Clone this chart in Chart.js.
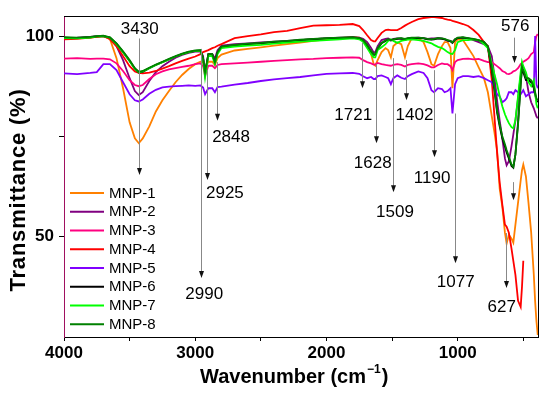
<!DOCTYPE html>
<html>
<head>
<meta charset="utf-8">
<script src="https://cdn.jsdelivr.net/npm/chart.js"></script>
<style>
  html, body { margin: 0; padding: 0; background: #fff; }
  #ftir { display: block; }
</style>
</head>
<body>
<canvas id="ftir" width="550" height="398"></canvas>
<script>
// FTIR spectra, wavenumber (cm-1) vs transmittance (%)
const wavenumbers = [
  4000, 3900, 3800, 3750, 3700, 3650, 3600, 3550, 3500, 3460,
  3430, 3400, 3350, 3300, 3250, 3200, 3150, 3100, 3050, 3000,
  2960, 2940, 2925, 2900, 2870, 2850, 2830, 2800, 2700, 2600,
  2500, 2400, 2300, 2200, 2100, 2000, 1900, 1800, 1750, 1721,
  1690, 1660, 1640, 1628, 1610, 1580, 1550, 1530, 1509, 1490,
  1460, 1430, 1402, 1380, 1350, 1300, 1260, 1230, 1200, 1180,
  1150, 1120, 1100, 1077, 1055, 1040, 1020, 1000, 960, 920,
  880, 840, 800, 770, 740, 720, 700, 680, 660, 640,
  627, 610, 590, 576, 560, 540, 520, 510, 500, 480,
  460, 440, 420, 410, 400, 390
];

const seriesNames = ['MNP-1', 'MNP-2', 'MNP-3', 'MNP-4', 'MNP-5', 'MNP-6', 'MNP-7', 'MNP-8'];
const seriesColors = ['#ff8000', '#800080', '#ff0080', '#ff0000', '#8000ff', '#000000', '#00ff00', '#008000'];

const mnp1 = [
  99.3, 99.5, 99.6, 99.8, 100, 99.3, 94.5, 87, 78.5, 74.5,
  73.3, 74.5, 77.5, 81.2, 84, 86.3, 88.5, 90.3, 91.8, 93,
  93.6, 93.4, 92.2, 93.6, 93.6, 92.8, 94.5, 95.4, 96.4, 96.8,
  97.2, 97.6, 98, 98.4, 98.8, 99.2, 99.5, 99.8, 99.6, 99,
  98, 95.5, 93, 92.6, 94, 96, 97, 96.5, 94.7, 97.5,
  98.4, 98, 94.7, 97.5, 99.5, 99.4, 98.5, 96, 93, 92.6,
  95.5, 97.5, 98.5, 98.5, 97, 87, 98.5, 99.2, 99, 97,
  95, 92.2, 89.5, 86, 80, 76, 71.6, 62, 57.5, 51,
  48.3, 50.5, 49.5, 48.5, 53, 58.5, 64, 66.6, 68, 65,
  58.3, 51, 40.5, 34, 29, 25.5
];
const mnp2 = [
  99.5, 99.6, 99.8, 100, 100, 99.5, 97.5, 94, 89.5, 86.3,
  85.3, 86, 88.8, 91, 92.5, 93.6, 94.6, 95.3, 95.8, 96.1,
  96.2, 95, 90.5, 95.5, 95.5, 94.4, 96.5, 97.6, 98, 98.2,
  98.4, 98.6, 98.8, 99, 99.2, 99.4, 99.6, 99.7, 99.6, 99.3,
  98.5, 97, 95.9, 96, 97.5, 99, 99.3, 99.4, 99, 99.3,
  99.4, 99.3, 99, 99.3, 99.5, 99.6, 99.5, 99.3, 99.4, 99.4,
  99.5, 99.4, 99.2, 98.8, 98.8, 98.5, 99.2, 99.5, 99.6, 99.4,
  99, 98.5, 98, 97.5, 95, 90, 84, 79, 74.5, 69.5,
  67.8, 68.8, 72.5, 75.5, 79, 84.5, 90, 91.5, 91.5, 90,
  86, 83.5, 82, 81, 80, 79.5
];
const mnp3 = [
  94.4, 94.5, 94.3, 94.4, 94.4, 94.2, 93.2, 91.3, 89, 87.8,
  87.5, 87.8, 89.3, 90.5, 91.2, 91.7, 92, 92.3, 92.6, 93,
  93.2, 92.5, 90.1, 92.6, 92.6, 92, 92.8, 93, 93.2, 93.4,
  93.6, 93.8, 94, 94.2, 94.3, 94.5, 94.6, 94.7, 94.6, 94,
  93.5, 93.2, 92.9, 92.9, 93.3, 93, 92.8, 92.7, 92.6, 92.8,
  93, 92.8, 92.4, 92.8, 93, 93.2, 93, 92.7, 92.2, 92.2,
  92.8, 93.2, 93, 93, 92.5, 91.5, 93.5, 94, 94.3, 94.4,
  94.2, 94.3, 93.8, 93.5, 93.5, 93, 92.5, 92, 91.3, 91,
  90.6, 90.5, 90.8, 91.2, 91.4, 92, 93, 93.3, 93.6, 94,
  94.5, 95.5, 96, 98.5, 100, 100.5
];
const mnp4 = [
  99.2, 99.3, 99.6, 99.8, 100, 99.2, 97.5, 95, 92.5, 91.2,
  90.8, 90.7, 90.9, 91.3, 91.9, 92.5, 93.2, 93.8, 94.4, 94.9,
  95.5, 96, 96.2, 96.5, 97, 97.2, 97.6, 98, 99.5, 100,
  100.4, 101, 101.3, 102, 102.6, 102.7, 102.8, 103, 102.5, 101.5,
  100.2, 99, 98.7, 98.7, 99.5, 100.8, 101.5, 101.6, 101.5, 101.5,
  101.5, 102, 102.6, 103, 103.5, 104.2, 104.5, 104.6, 104.7, 104.7,
  104.6, 104.5, 104.3, 104.1, 104, 103.8, 103.6, 103.4, 103, 102.5,
  101.5, 100.3, 98.5, 97.5, 89, 80, 71, 63.5, 58, 53,
  52.5, 51, 47, 44, 40.5, 34, 32.5, 37.5, 44, null,
  null, null, null, null, null, null
];
const mnp5 = [
  90.7, 90.5, 90.8, 91, 93, 93, 91.5, 88.5, 85.5, 84,
  83.7, 84.2, 85.6, 86.6, 87.2, 87.4, 87.5, 87.6, 87.7, 87.6,
  87.7, 87.2, 85.5, 87, 87, 86, 87.3, 87.4, 87.9, 88.3,
  88.8, 89.2, 89.5, 89.8, 90.2, 90.6, 90.7, 90.8, 90.6, 90,
  89.5, 89.8, 89.3, 89.3, 90, 90.2, 89.8, 89.5, 88, 89.5,
  90.2, 89.6, 89.3, 90, 90.5, 91.2, 90.8, 89.5, 86.5, 86,
  87, 86.8, 86, 86.3, 87, 80.7, 88, 89.5, 90, 90,
  89.8, 90, 89.5, 89, 88.5, 87, 85.5, 85, 83.5, 84,
  84.5, 86, 86, 85.5, 86.5, 86, 85.5, 86, 86.5, 85,
  85.5, 86, 86, 100, 88, 87
];
const mnp6 = [
  99.6, 99.5, 99.7, 99.9, 100, 99.6, 98.1, 96, 93.8, 91.9,
  90.9, 91.1, 92, 92.8, 93.5, 94.2, 94.9, 95.5, 96, 96.3,
  96.4, 94.4, 90.8, 95.4, 95.4, 93.4, 95.9, 97.3, 97.7, 98,
  98.2, 98.5, 98.7, 99, 99.2, 99.4, 99.5, 99.6, 99.4, 98.9,
  97.6, 96, 95.3, 95.3, 96.8, 98.2, 98.8, 99.1, 98.9, 99.1,
  99.3, 99.4, 99.2, 99.4, 99.5, 99.5, 99.4, 99.2, 99.1, 99.2,
  99.4, 99.3, 99.2, 98.9, 98.7, 98.3, 99.1, 99.5, 99.6, 99.4,
  99.2, 98.9, 98.5, 97.2, 91.5, 86.5, 81, 77.5, 74.5, 72.5,
  71, 69.5, 67.6, 67.2, 70.5, 78.5, 88, 92, 91, 89,
  89, 88.5, 87, 85.5, 84, 83.5
];
const mnp7 = [
  99.5, 99.4, 99.6, 99.9, 100, 99.6, 98, 96, 93.8, 91.8,
  91, 91.2, 92, 92.8, 93.5, 94.2, 94.9, 95.5, 96, 96.3,
  96.4, 94, 89.7, 95, 95, 93, 95.5, 97, 97.4, 97.6,
  97.8, 98.1, 98.4, 98.6, 98.8, 99, 99.2, 99.4, 99.2, 98.6,
  97, 95.5, 94.7, 94.7, 96.5, 97.2, 98, 98.8, 99.2, 98.8,
  98.3, 98.8, 99, 99.1, 99.2, 99, 98.8, 98.5, 98.2, 97.8,
  97.3, 97, 96.6, 96, 95.6, 95.5, 96.5, 98.5, 99, 99,
  99.2, 99, 98, 97, 93, 90.5, 88, 85, 82.5, 80.5,
  79.5, 78.3, 77.3, 77, 79, 85, 91, 93.6, 92.5, 91,
  88.5, 87.5, 89, 86, 83, 82
];
const mnp8 = [
  99.7, 99.6, 99.8, 100, 100.1, 99.7, 98.2, 96.2, 94, 92,
  91.1, 91.3, 92.1, 92.9, 93.6, 94.3, 95, 95.6, 96.1, 96.4,
  96.5, 94.5, 91, 95.5, 95.5, 93.5, 96, 97.4, 97.8, 98.1,
  98.3, 98.6, 98.8, 99.1, 99.3, 99.5, 99.6, 99.7, 99.5, 99,
  97.8, 96.3, 95.5, 95.5, 97, 98.3, 98.9, 99.2, 99, 99.2,
  99.4, 99.5, 99.3, 99.5, 99.6, 99.6, 99.5, 99.3, 99.2, 99.3,
  99.5, 99.4, 99.3, 99, 98.8, 98.4, 99.2, 99.6, 99.7, 99.5,
  99.3, 99, 98.6, 97.5, 92, 87, 81.5, 78, 75, 73,
  71.6, 70, 68, 67.4, 70.5, 78, 88, 92.4, 91.5, 89.5,
  89.5, 89, 87.5, 86, 84.5, 84
];
const seriesValues = [mnp1, mnp2, mnp3, mnp4, mnp5, mnp6, mnp7, mnp8];

const xTicks = [4000, 3500, 3000, 2500, 2000, 1500, 1000, 500];
const xTickLabels = ['4000', '', '3000', '', '2000', '', '1000', ''];
const yTicks = [50, 75, 100];
const yTickLabels = ['50', '', '100'];

// peak markers: label, arrow wavenumber, arrow start/end (T), label position
const peaks = [
  { text: '3430', x: 3430, y1: 99.4, y2: 65.4, tx: 3423, ty: 101.7 },
  { text: '2990', x: 2957, y1: 96.8, y2: 39.7, tx: 2931, ty: 35.6 },
  { text: '2925', x: 2911, y1: 91.5, y2: 64.1, tx: 2774, ty: 60.8 },
  { text: '2848', x: 2835, y1: 93.5, y2: 78.9, tx: 2727, ty: 74.8 },
  { text: '1721', x: 1727, y1: 98.4, y2: 87, tx: 1796, ty: 80.3 },
  { text: '1628', x: 1625, y1: 93, y2: 73.3, tx: 1647, ty: 68.3 },
  { text: '1509', x: 1493, y1: 94.5, y2: 61.1, tx: 1478, ty: 56 },
  { text: '1402', x: 1396, y1: 94, y2: 84, tx: 1329, ty: 80.3 },
  { text: '1190', x: 1182, y1: 91.5, y2: 69.8, tx: 1195, ty: 64.5 },
  { text: '1077', x: 1020, y1: 80.7, y2: 43.4, tx: 1015, ty: 38.7 },
  { text: '576', x: 570, y1: 99.6, y2: 93.3, tx: 562, ty: 102.5 },
  { text: '', x: 575, y1: 63.6, y2: 59.1 },
  { text: '627', x: 633, y1: 50.9, y2: 37.2, tx: 664, ty: 32.5 }
];

const FONT = '"Liberation Sans", Arial, Helvetica, sans-serif';

const framePlugin = {
  id: 'frame',
  afterDraw(chart) {
    const { ctx, chartArea: a } = chart;
    ctx.save();
    ctx.strokeStyle = '#000';
    ctx.lineWidth = 1;
    ctx.beginPath();
    ctx.moveTo(a.left, a.top + 0.5);
    ctx.lineTo(a.right + 0.5, a.top + 0.5);
    ctx.lineTo(a.right + 0.5, a.bottom);
    ctx.stroke();
    ctx.restore();
  }
};

const peakPlugin = {
  id: 'peaks',
  afterDatasetsDraw(chart) {
    const { ctx } = chart;
    const xs = chart.scales.x, ys = chart.scales.y;
    ctx.save();
    peaks.forEach(p => {
      const x = Math.round(xs.getPixelForValue(p.x)) + 0.5;
      const y1 = ys.getPixelForValue(p.y1);
      const y2 = ys.getPixelForValue(p.y2);
      ctx.strokeStyle = '#888';
      ctx.lineWidth = 1;
      ctx.beginPath();
      ctx.moveTo(x, y1);
      ctx.lineTo(x, y2 - 6);
      ctx.stroke();
      ctx.fillStyle = '#111';
      ctx.beginPath();
      ctx.moveTo(x, y2);
      ctx.lineTo(x - 2.5, y2 - 7);
      ctx.lineTo(x + 2.5, y2 - 7);
      ctx.closePath();
      ctx.fill();
      if (p.text) {
        ctx.font = '17px ' + FONT;
        ctx.fillStyle = '#000';
        ctx.textAlign = 'center';
        ctx.textBaseline = 'middle';
        ctx.fillText(p.text, xs.getPixelForValue(p.tx), ys.getPixelForValue(p.ty));
      }
    });
    ctx.restore();
  }
};

const legendPlugin = {
  id: 'inlegend',
  afterDatasetsDraw(chart) {
    const { ctx, chartArea: a } = chart;
    ctx.save();
    chart.data.datasets.forEach((ds, i) => {
      const y = a.top + 177 + i * 18.75;
      ctx.strokeStyle = ds.borderColor;
      ctx.lineWidth = 2;
      ctx.beginPath();
      ctx.moveTo(a.left + 6, y);
      ctx.lineTo(a.left + 40, y);
      ctx.stroke();
      ctx.font = '15px ' + FONT;
      ctx.fillStyle = '#000';
      ctx.textAlign = 'left';
      ctx.textBaseline = 'middle';
      ctx.fillText(ds.label, a.left + 45, y + 0.5);
    });
    ctx.restore();
  }
};

const titlePlugin = {
  id: 'axisTitles',
  afterDraw(chart) {
    const { ctx } = chart;
    ctx.save();
    ctx.fillStyle = '#000';
    // y title
    ctx.translate(24.5, 190);
    ctx.rotate(-Math.PI / 2);
    ctx.font = 'bold 22px ' + FONT;
    ctx.letterSpacing = '0.8px';
    ctx.textAlign = 'center';
    ctx.textBaseline = 'alphabetic';
    ctx.fillText('Transmittance (%)', 0, 0);
    ctx.restore();

    // x title with superscript
    ctx.save();
    ctx.fillStyle = '#000';
    ctx.textBaseline = 'alphabetic';
    ctx.textAlign = 'left';
    let x = 200;
    const base = 383;
    ctx.font = 'bold 20px ' + FONT;
    const main = 'Wavenumber (cm';
    ctx.fillText(main, x, base);
    x += ctx.measureText(main).width + 1;
    ctx.font = 'bold 12px ' + FONT;
    const sup = '\u22121';
    ctx.fillText(sup, x, base - 10);
    x += ctx.measureText(sup).width + 1;
    ctx.font = 'bold 20px ' + FONT;
    ctx.fillText(')', x, base);
    ctx.restore();
  }
};

const datasets = seriesNames.map((name, i) => ({
  label: name,
  data: wavenumbers.map((w, j) => ({ x: w, y: seriesValues[i][j] })),
  borderColor: seriesColors[i],
  borderWidth: 1.8,
  pointRadius: 0,
  tension: 0,
  spanGaps: false,
  order: seriesNames.length - i
}));

new Chart(document.getElementById('ftir'), {
  type: 'line',
  data: { datasets },
  options: {
    responsive: false,
    devicePixelRatio: 1,
    animation: false,
    layout: { padding: { top: 16, right: 12, left: 0, bottom: 0 } },
    plugins: { legend: { display: false }, tooltip: { enabled: false } },
    scales: {
      x: {
        type: 'linear',
        reverse: true,
        min: 388,
        max: 4000,
        afterBuildTicks(scale) { scale.ticks = xTicks.map(v => ({ value: v })); },
        afterFit(scale) { scale.height = 61; },
        ticks: {
          autoSkip: false,
          maxRotation: 0,
          padding: 2,
          color: '#000',
          font: { family: FONT, size: 17, weight: 'bold' },
          callback: (v) => xTickLabels[xTicks.indexOf(v)] ?? ''
        },
        grid: { drawOnChartArea: false, drawTicks: true, tickLength: 4, color: '#000' },
        border: { display: true, color: '#000', width: 1 }
      },
      y: {
        min: 25,
        max: 105,
        afterBuildTicks(scale) { scale.ticks = yTicks.map(v => ({ value: v })); },
        afterFit(scale) { scale.width = 64; },
        ticks: {
          padding: 5,
          color: '#000',
          font: { family: FONT, size: 17, weight: 'bold' },
          callback: (v) => yTickLabels[yTicks.indexOf(v)] ?? ''
        },
        grid: { drawOnChartArea: false, drawTicks: true, tickLength: 5, color: '#000' },
        border: { display: true, color: '#a01060', width: 1 }
      }
    }
  },
  plugins: [framePlugin, peakPlugin, legendPlugin, titlePlugin]
});
</script>
</body>
</html>
